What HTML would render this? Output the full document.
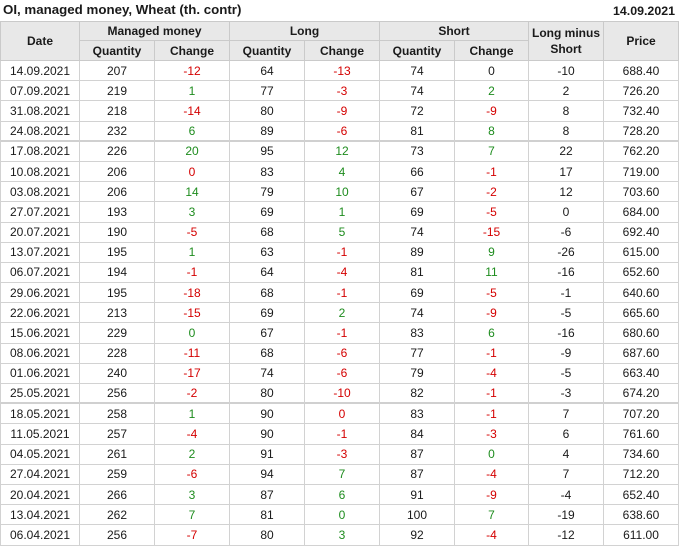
<!DOCTYPE html>
<html><head><meta charset="utf-8">
<style>
*{margin:0;padding:0;box-sizing:border-box;}
body{width:680px;height:548px;background:#fff;font-family:"Liberation Sans",Arial,sans-serif;color:#1a1a1a;position:relative;overflow:hidden;}
.title{position:absolute;left:3px;top:2px;font-size:13.3px;font-weight:bold;line-height:16px;}
.tdate{position:absolute;right:5px;top:3px;font-size:12.4px;font-weight:bold;line-height:16px;}
.h{position:absolute;background:#e8e8e8;font-size:12px;font-weight:bold;display:flex;align-items:center;justify-content:center;text-align:center;line-height:16px;border-right:1px solid #cacaca;border-bottom:1px solid #cacaca;}
.grid{position:absolute;left:0;top:61px;display:grid;grid-template-columns:80px 75px 75px 75px 75px 75px 74px 75px 75px;grid-auto-rows:20.2px;font-size:12px;}
.grid div{border-right:1px solid #d2d2d2;border-bottom:1px solid #d2d2d2;display:flex;align-items:center;justify-content:center;line-height:14px;}
.grid div.d{border-left:1px solid #d2d2d2;}
.grid div.t{border-bottom:2px solid #d0d0d0;}
.r{color:#d40000;}
.g{color:#1e8c1e;}
</style></head><body>
<div class="title">OI, managed money, Wheat (th. contr)</div>
<div class="tdate">14.09.2021</div>
<div class="h" style="left:0;top:21px;width:80px;height:40px;border-left:1px solid #cacaca;border-top:1px solid #cacaca;">Date</div>
<div class="h" style="left:80px;top:21px;width:150px;height:20px;border-top:1px solid #cacaca;">Managed money</div>
<div class="h" style="left:230px;top:21px;width:150px;height:20px;border-top:1px solid #cacaca;">Long</div>
<div class="h" style="left:380px;top:21px;width:149px;height:20px;border-top:1px solid #cacaca;">Short</div>
<div class="h" style="left:529px;top:21px;width:75px;height:40px;border-top:1px solid #cacaca;">Long minus<br>Short</div>
<div class="h" style="left:604px;top:21px;width:75px;height:40px;border-top:1px solid #cacaca;">Price</div>
<div class="h" style="left:80px;top:41px;width:75px;height:20px;">Quantity</div>
<div class="h" style="left:155px;top:41px;width:75px;height:20px;">Change</div>
<div class="h" style="left:230px;top:41px;width:75px;height:20px;">Quantity</div>
<div class="h" style="left:305px;top:41px;width:75px;height:20px;">Change</div>
<div class="h" style="left:380px;top:41px;width:75px;height:20px;">Quantity</div>
<div class="h" style="left:455px;top:41px;width:74px;height:20px;">Change</div>
<div class="grid">
<div class="d">14.09.2021</div><div>207</div><div class="r">-12</div><div>64</div><div class="r">-13</div><div>74</div><div>0</div><div>-10</div><div>688.40</div>
<div class="d">07.09.2021</div><div>219</div><div class="g">1</div><div>77</div><div class="r">-3</div><div>74</div><div class="g">2</div><div>2</div><div>726.20</div>
<div class="d">31.08.2021</div><div>218</div><div class="r">-14</div><div>80</div><div class="r">-9</div><div>72</div><div class="r">-9</div><div>8</div><div>732.40</div>
<div class="d t">24.08.2021</div><div class="t">232</div><div class="t g">6</div><div class="t">89</div><div class="t r">-6</div><div class="t">81</div><div class="t g">8</div><div class="t">8</div><div class="t">728.20</div>
<div class="d">17.08.2021</div><div>226</div><div class="g">20</div><div>95</div><div class="g">12</div><div>73</div><div class="g">7</div><div>22</div><div>762.20</div>
<div class="d">10.08.2021</div><div>206</div><div class="r">0</div><div>83</div><div class="g">4</div><div>66</div><div class="r">-1</div><div>17</div><div>719.00</div>
<div class="d">03.08.2021</div><div>206</div><div class="g">14</div><div>79</div><div class="g">10</div><div>67</div><div class="r">-2</div><div>12</div><div>703.60</div>
<div class="d">27.07.2021</div><div>193</div><div class="g">3</div><div>69</div><div class="g">1</div><div>69</div><div class="r">-5</div><div>0</div><div>684.00</div>
<div class="d">20.07.2021</div><div>190</div><div class="r">-5</div><div>68</div><div class="g">5</div><div>74</div><div class="r">-15</div><div>-6</div><div>692.40</div>
<div class="d">13.07.2021</div><div>195</div><div class="g">1</div><div>63</div><div class="r">-1</div><div>89</div><div class="g">9</div><div>-26</div><div>615.00</div>
<div class="d">06.07.2021</div><div>194</div><div class="r">-1</div><div>64</div><div class="r">-4</div><div>81</div><div class="g">11</div><div>-16</div><div>652.60</div>
<div class="d">29.06.2021</div><div>195</div><div class="r">-18</div><div>68</div><div class="r">-1</div><div>69</div><div class="r">-5</div><div>-1</div><div>640.60</div>
<div class="d">22.06.2021</div><div>213</div><div class="r">-15</div><div>69</div><div class="g">2</div><div>74</div><div class="r">-9</div><div>-5</div><div>665.60</div>
<div class="d">15.06.2021</div><div>229</div><div class="g">0</div><div>67</div><div class="r">-1</div><div>83</div><div class="g">6</div><div>-16</div><div>680.60</div>
<div class="d">08.06.2021</div><div>228</div><div class="r">-11</div><div>68</div><div class="r">-6</div><div>77</div><div class="r">-1</div><div>-9</div><div>687.60</div>
<div class="d">01.06.2021</div><div>240</div><div class="r">-17</div><div>74</div><div class="r">-6</div><div>79</div><div class="r">-4</div><div>-5</div><div>663.40</div>
<div class="d t">25.05.2021</div><div class="t">256</div><div class="t r">-2</div><div class="t">80</div><div class="t r">-10</div><div class="t">82</div><div class="t r">-1</div><div class="t">-3</div><div class="t">674.20</div>
<div class="d">18.05.2021</div><div>258</div><div class="g">1</div><div>90</div><div class="r">0</div><div>83</div><div class="r">-1</div><div>7</div><div>707.20</div>
<div class="d">11.05.2021</div><div>257</div><div class="r">-4</div><div>90</div><div class="r">-1</div><div>84</div><div class="r">-3</div><div>6</div><div>761.60</div>
<div class="d">04.05.2021</div><div>261</div><div class="g">2</div><div>91</div><div class="r">-3</div><div>87</div><div class="g">0</div><div>4</div><div>734.60</div>
<div class="d">27.04.2021</div><div>259</div><div class="r">-6</div><div>94</div><div class="g">7</div><div>87</div><div class="r">-4</div><div>7</div><div>712.20</div>
<div class="d">20.04.2021</div><div>266</div><div class="g">3</div><div>87</div><div class="g">6</div><div>91</div><div class="r">-9</div><div>-4</div><div>652.40</div>
<div class="d">13.04.2021</div><div>262</div><div class="g">7</div><div>81</div><div class="g">0</div><div>100</div><div class="g">7</div><div>-19</div><div>638.60</div>
<div class="d">06.04.2021</div><div>256</div><div class="r">-7</div><div>80</div><div class="g">3</div><div>92</div><div class="r">-4</div><div>-12</div><div>611.00</div>
</div>
</body></html>
